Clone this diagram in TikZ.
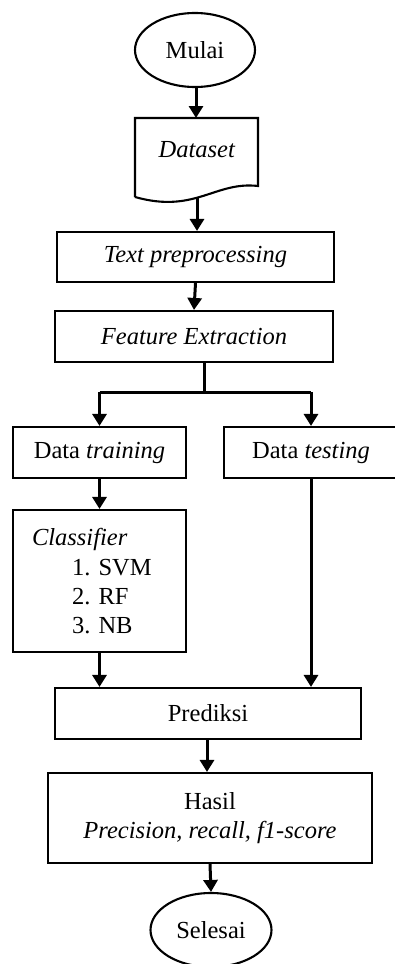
\documentclass[tikz,border=0pt]{standalone}
\usepackage{fontspec}
\setmainfont{Liberation Serif}
\usetikzlibrary{arrows.meta,shapes.geometric,calc}
\tikzset{
  box/.style={draw, line width=2.1pt, rectangle, inner sep=0pt, align=center,
    font=\fontsize{24.5}{29}\selectfont},
  term/.style={draw, line width=2.1pt, ellipse, inner sep=0pt,
    minimum width=120pt, minimum height=74pt, font=\fontsize{24.5}{29}\selectfont},
  plain/.style={inner sep=0pt, font=\fontsize{24.5}{29}\selectfont},
  conn/.style={line width=3pt, -{Triangle[length=12pt,width=14pt]}},
  link/.style={line width=3pt}
}
\begin{document}
\frenchspacing
\begin{tikzpicture}[x=1pt,y=-1pt]
\clip (0,0) rectangle (395,964);
\fill[white] (0,0) rectangle (395,964);

\node[term] (mulai) at (195,50) {Mulai};

% Dataset document shape
\node[plain] (ds) at (197,150) {\textit{Dataset}};
\draw[line width=2.1pt] (135,197) -- (135,118) -- (258,118) -- (258,186)
  .. controls (215,181) and (195,214) .. (135,197);
\coordinate (dstop) at (196,118);
\coordinate (dsbot) at (197,197);

\node[box, minimum width=277pt, minimum height=50pt] (tp) at (195.5,257) {\textit{Text preprocessing}};
\node[box, minimum width=278pt, minimum height=51pt] (fe) at (194,336.5) {\textit{Feature Extraction}};

\coordinate (split) at (204,392);
\coordinate (febot) at (204,362);

\node[box, minimum width=173pt, minimum height=51pt] (dtr) at (99.5,452.5) {Data \textit{training}};
\node[box, minimum width=174pt, minimum height=51pt] (dte) at (311,452.5) {Data \textit{testing}};

\node[box, minimum width=173pt, minimum height=142pt, text width=135pt, align=left] (cl) at (99.5,581)
  {\textit{Classifier}\\[1pt]\hspace*{40pt}1. SVM\\\hspace*{40pt}2. RF\\\hspace*{40pt}3. NB};

\node[box, minimum width=306pt, minimum height=51pt] (pr) at (208,713.5) {Prediksi};
\node[box, minimum width=324pt, minimum height=90pt] (hs) at (210,818) {Hasil\\\textit{Precision, recall, f1-score}};
\node[term, minimum width=121pt] (se) at (211,930) {Selesai};

% connectors
\draw[conn] (mulai.south -| dstop) -- (dstop);
\draw[conn] (dsbot) -- (dsbot |- tp.north);
\draw[conn] (tp.south) -- (fe.north);
\draw[link] (febot) -- (split);
\draw[link] (dtr.north |- split) -- (dte.north |- split);
\draw[conn] (dtr.north |- split) -- (dtr.north);
\draw[conn] (dte.north |- split) -- (dte.north);
\draw[conn] (dtr.south) -- (cl.north);
\draw[conn] (cl.south) -- (cl.south |- pr.north);
\draw[conn] (dte.south) -- (dte.south |- pr.north);
\draw[conn] (pr.south -| 207,0) -- (hs.north -| 207,0);
\draw[conn] (hs.south) -- (se.north);
\end{tikzpicture}
\end{document}
